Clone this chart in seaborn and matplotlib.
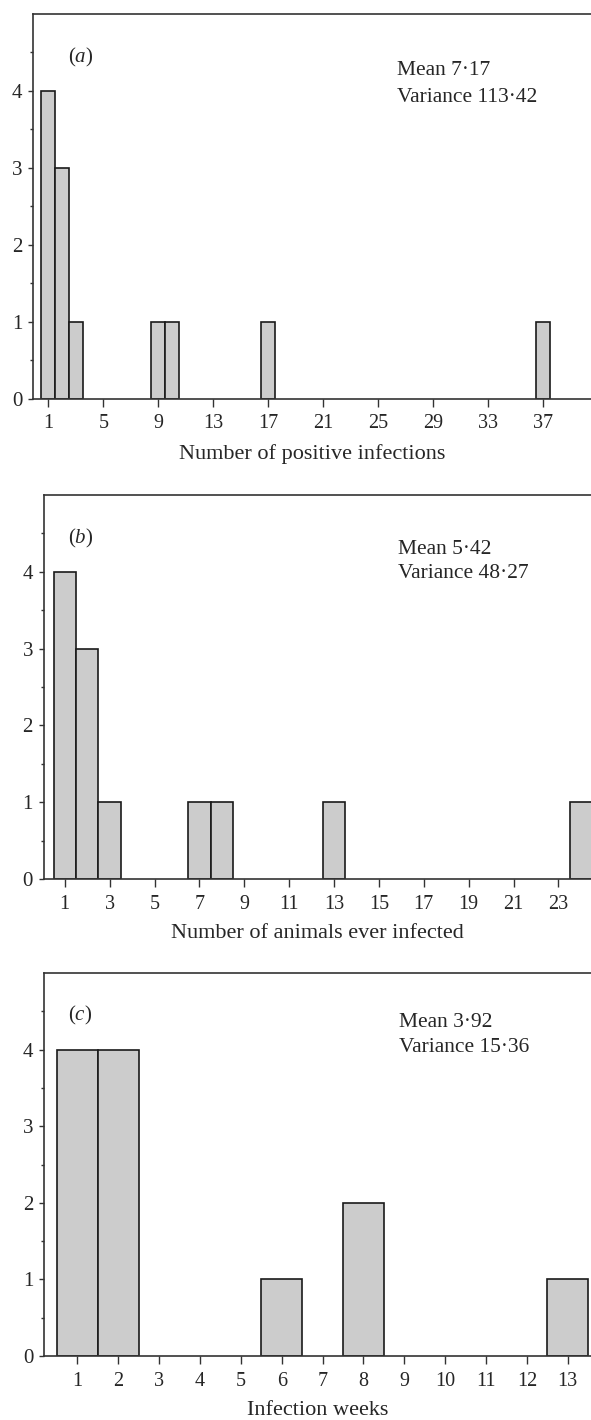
import matplotlib
matplotlib.use("Agg")
import matplotlib.pyplot as plt
import seaborn as sns
from matplotlib.ticker import FixedLocator

# values and counts
pos_values = [1, 2, 3, 9, 10, 17, 37]
pos_counts = [4, 3, 1, 1, 1, 1, 1]
pos_ticks = [1, 5, 9, 13, 17, 21, 25, 29, 33, 37]

anim_values = [1, 2, 3, 7, 8, 13, 24]
anim_counts = [4, 3, 1, 1, 1, 1, 1]
anim_ticks = [1, 3, 5, 7, 9, 11, 13, 15, 17, 19, 21, 23]

week_values = [1, 2, 6, 8, 13]
week_counts = [4, 4, 1, 2, 1]
week_ticks = list(range(1, 14))

panel_letters = ["a", "b", "c"]
xlabels = ["Number of positive infections", "Number of animals ever infected", "Infection weeks"]
means = ["Mean 7·17", "Mean 5·42", "Mean 3·92"]
variances = ["Variance 113·42", "Variance 48·27", "Variance 15·36"]

sns.set_style("ticks")
plt.rcParams["font.family"] = ["Liberation Serif", "DejaVu Serif"]
plt.rcParams["mathtext.fontset"] = "custom"
plt.rcParams["mathtext.rm"] = "Liberation Serif"
plt.rcParams["mathtext.it"] = "Liberation Serif:italic"

W, H = 591, 1420
fig = plt.figure(figsize=(W / 100, H / 100), dpi=100)

# pixel boxes of each panel: left, top, bottom ; xlim
boxes = [(33.3, 14, 398.5, (-0.09, 40.47)),
         (44.1, 495, 879, (0.08, 24.45)),
         (44.3, 973, 1356, (0.19, 13.57))]
data = [(pos_values, pos_counts, pos_ticks),
        (anim_values, anim_counts, anim_ticks),
        (week_values, week_counts, week_ticks)]
letter_pos = [(0.062, 0.888), (0.043, 0.887), (0.044, 0.890)]
stat_pos = [(0.652, 0.854, 0.784), (0.648, 0.859, 0.796), (0.648, 0.870, 0.805)]

for i in range(3):
    left, top, bottom, xlim = boxes[i]
    ax = fig.add_axes([left / W, 1 - bottom / H, (W - left) / W, (bottom - top) / H])
    vals, cnts, ticks = data[i]
    sns.barplot(x=vals, y=cnts, native_scale=True, width=1, color="#cccccc",
                edgecolor="#1a1a1a", linewidth=1.2, saturation=1, ax=ax)
    ax.set_xlim(*xlim)
    ax.set_ylim(0, 5)
    ax.set_xticks(ticks)
    ax.set_xticklabels([str(t) for t in ticks])
    ax.set_yticks([0, 1, 2, 3, 4])
    ax.yaxis.set_minor_locator(FixedLocator([0.5, 1.5, 2.5, 3.5, 4.5]))
    ax.spines["right"].set_visible(False)
    for s in ["left", "top", "bottom"]:
        ax.spines[s].set_color("#333333")
        ax.spines[s].set_linewidth(1.2)
    ax.tick_params(axis="x", length=5.5, width=1.0, pad=6, labelsize=14.5, color="#333333")
    ax.tick_params(axis="y", which="major", length=3.5, width=1.0, pad=4.5, labelsize=15, color="#333333")
    ax.tick_params(axis="y", which="minor", length=2.5, width=1.0, color="#333333")
    ax.set_xlabel(xlabels[i], fontsize=16, labelpad=7.5)
    ax.set_ylabel("")
    ax.text(letter_pos[i][0], letter_pos[i][1], "($\\mathit{" + panel_letters[i] + "}$)",
            transform=ax.transAxes, fontsize=15, va="center", ha="left")
    ax.text(stat_pos[i][0], stat_pos[i][1], means[i], transform=ax.transAxes,
            fontsize=15.5, va="center", ha="left")
    ax.text(stat_pos[i][0], stat_pos[i][2], variances[i], transform=ax.transAxes,
            fontsize=15.5, va="center", ha="left")

fig.savefig("out.png", dpi=100)
